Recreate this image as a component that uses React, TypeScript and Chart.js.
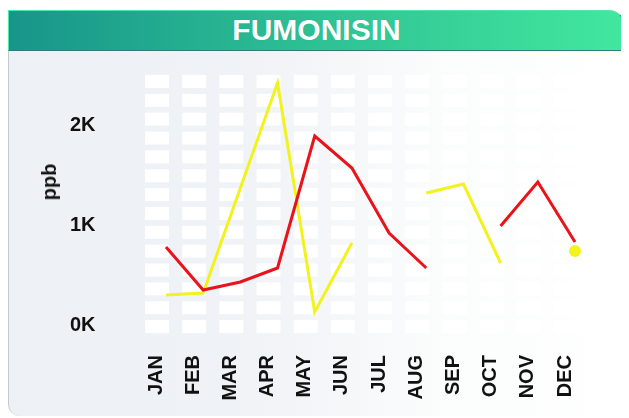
import React, { useEffect, useRef } from "react";
import { Chart, registerables } from "chart.js";

Chart.register(...registerables);

const months = ["JAN", "FEB", "MAR", "APR", "MAY", "JUN", "JUL", "AUG", "SEP", "OCT", "NOV", "DEC"];
const redValues = [780, 350, 430, 570, 1890, 1570, 920, 570, null, 990, 1430, 830];
const yellowValues = [300, 320, 1370, 2420, 130, 820, null, 1320, 1410, 620, null, 740];
const yTicks = [0, 1000, 2000];

const FONT = "'Liberation Sans', Arial, Helvetica, sans-serif";

const cellPlugin = {
  id: "cells",
  beforeDatasetsDraw(chart: any) {
    const { ctx, chartArea, scales } = chart;
    const x = scales.x;
    ctx.save();
    ctx.fillStyle = "rgba(255,255,255,0.95)";
    const pitch = 18.85;
    const h = 13;
    const w = 24;
    for (let i = 0; i < months.length; i++) {
      const cx = x.getPixelForValue(i) - 9;
      for (let r = 0; r < 14; r++) {
        const top = chartArea.top + r * pitch;
        ctx.fillRect(cx - w / 2, top, w, h);
      }
    }
    ctx.restore();
  },
};

function isolatedRadius(ctx: any) {
  const data = ctx.dataset.data as (number | null)[];
  const i = ctx.dataIndex;
  if (data[i] == null) return 0;
  const prev = i > 0 ? data[i - 1] : null;
  const next = i < data.length - 1 ? data[i + 1] : null;
  return prev == null && next == null ? 6 : 0;
}

export default function App() {
  const ref = useRef<HTMLCanvasElement | null>(null);

  useEffect(() => {
    if (!ref.current) return;
    const chart = new Chart(ref.current, {
      type: "line",
      data: {
        labels: months,
        datasets: [
          {
            label: "red",
            data: redValues,
            borderColor: "#e8131b",
            backgroundColor: "#e8131b",
            borderWidth: 3,
            tension: 0,
            spanGaps: false,
            borderJoinStyle: "miter",
            pointRadius: isolatedRadius,
            pointHoverRadius: 0,
            pointBorderWidth: 0,
          },
          {
            label: "yellow",
            data: yellowValues,
            borderColor: "#f2f21c",
            backgroundColor: "#f2f21c",
            borderWidth: 3,
            tension: 0,
            spanGaps: false,
            borderJoinStyle: "miter",
            pointRadius: isolatedRadius,
            pointHoverRadius: 0,
            pointBorderWidth: 0,
          },
        ],
      },
      options: {
        responsive: false,
        animation: false,
        layout: { padding: { left: 62, right: 31.4, top: 24, bottom: 0 } },
        plugins: {
          legend: { display: false },
          tooltip: { enabled: false },
          title: { display: false },
        },
        scales: {
          x: {
            offset: true,
            grid: { display: false, drawTicks: false },
            border: { display: false },
            ticks: {
              autoSkip: false,
              minRotation: 90,
              maxRotation: 90,
              padding: 20,
              labelOffset: -10,
              color: "#111",
              font: { family: FONT, size: 20, weight: "bold" },
            },
            afterFit: (scale: any) => {
              scale.height = 81;
            },
          },
          y: {
            min: -100,
            max: 2500,
            grid: { display: false, drawTicks: false },
            border: { display: false },
            afterBuildTicks: (scale: any) => {
              scale.ticks = yTicks.map((v) => ({ value: v }));
            },
            ticks: {
              padding: 0,
              crossAlign: "far",
              color: "#111",
              font: { family: FONT, size: 20, weight: "bold" },
              callback: (v: any) => `${Number(v) / 1000}K`,
            },
            afterFit: (scale: any) => {
              scale.width = 77.4;
            },
          },
        },
      },
      plugins: [cellPlugin],
    });
    return () => chart.destroy();
  }, []);

  return (
    <div
      style={{
        position: "relative",
        width: 617,
        height: 406,
        marginTop: 2,
        fontFamily: FONT,
      }}
    >
      <div
        style={{
          position: "absolute",
          left: 0,
          top: 0,
          width: 617,
          height: 41,
          boxSizing: "border-box",
          background: "linear-gradient(90deg, #17958a 0%, #2ec194 50%, #42e79e 100%)",
          borderTop: "1.5px solid #4fe8aa",
          borderLeft: "1.5px solid #4fe8aa",
          borderRight: "1.5px solid #1f8f84",
          borderBottom: "1.5px solid #2b7f78",
          borderTopRightRadius: 16,
          color: "#ffffff",
          fontWeight: "bold",
          fontSize: 30,
          lineHeight: "38px",
          textAlign: "center",
          textShadow: "0 0 1px rgba(0,0,0,0.15)",
        }}
      >
        FUMONISIN
      </div>
      <div
        style={{
          position: "absolute",
          left: 0,
          top: 41,
          width: 617,
          height: 365,
          boxSizing: "border-box",
          background:
            "linear-gradient(90deg, #edf1f5 0%, #eff2f6 35%, #f5f7f9 55%, #fbfcfc 70%, #ffffff 100%)",
          borderLeft: "1px solid #c4c9ce",
          borderRight: "1px solid #d8dcdf",
          borderBottomLeftRadius: 12,
        }}
      />
      <canvas
        ref={ref}
        width={617}
        height={365}
        style={{ position: "absolute", left: 0, top: 41, width: 617, height: 365 }}
      />
      <span
        style={{
          position: "absolute",
          left: 41,
          top: 172,
          transform: "translate(-50%, -50%) rotate(-90deg)",
          fontWeight: "bold",
          fontSize: 20,
          lineHeight: 1,
          color: "#111",
          whiteSpace: "nowrap",
        }}
      >
        ppb
      </span>
    </div>
  );
}
